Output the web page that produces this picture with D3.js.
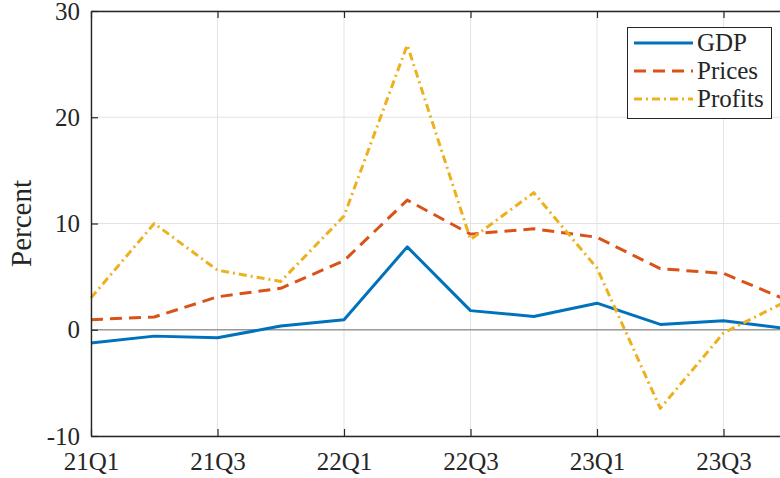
<!DOCTYPE html>
<html>
<head>
<meta charset="utf-8">
<script src="https://cdn.jsdelivr.net/npm/d3@7/dist/d3.min.js"></script>
<style>
  html, body { margin: 0; padding: 0; background: #fff; }
  svg { display: block; }
  text { font-family: "Liberation Serif", "DejaVu Serif", serif; fill: #262626; }
</style>
</head>
<body>
<svg id="chart" width="780" height="478"></svg>
<script>
// Quarterly growth, percent
const quarters = ["21Q1","21Q2","21Q3","21Q4","22Q1","22Q2","22Q3","22Q4","23Q1","23Q2","23Q3","23Q4"];
const gdp     = [-1.25, -0.6, -0.75, 0.35, 0.95, 7.8, 1.8, 1.25, 2.5, 0.5, 0.85, 0.1];
const prices  = [0.95, 1.2, 3.1, 3.9, 6.5, 12.2, 9.0, 9.5, 8.7, 5.75, 5.3, 2.8];
const profits = [3.0, 10.0, 5.6, 4.55, 10.7, 26.8, 8.5, 12.9, 5.8, -7.4, -0.3, 2.7];
const xTickLabels = ["21Q1","21Q3","22Q1","22Q3","23Q1","23Q3"];
const yTicks = [-10, 0, 10, 20, 30];

const series = [
  { name: "GDP",     values: gdp,     color: "#0072BD", dash: null },
  { name: "Prices",  values: prices,  color: "#D95319", dash: "12,7" },
  { name: "Profits", values: profits, color: "#EDB120", dash: "8,4,2,4" }
];

const svg = d3.select("#chart");
const plotLeft = 91, plotTop = 11, plotBottom = 436;
const step = 63.25;
const plotRight = plotLeft + step * (quarters.length - 1);

const x = d3.scalePoint().domain(quarters).range([plotLeft, plotRight]);
const y = d3.scaleLinear().domain([-10, 30]).range([plotBottom, plotTop]);

const axisColor = "#262626";
const fontStack = '"Liberation Serif", "DejaVu Serif", serif';

// grid
const grid = svg.append("g");
grid.selectAll("line.v").data(xTickLabels).join("line")
  .attr("x1", d => x(d)).attr("x2", d => x(d))
  .attr("y1", plotTop).attr("y2", plotBottom)
  .attr("stroke", "#e3e3e3").attr("stroke-width", 1);
grid.selectAll("line.h").data(yTicks).join("line")
  .attr("x1", plotLeft).attr("x2", plotRight)
  .attr("y1", d => y(d)).attr("y2", d => y(d))
  .attr("stroke", "#e3e3e3").attr("stroke-width", 1);

// zero reference line
svg.append("line")
  .attr("x1", plotLeft).attr("x2", plotRight)
  .attr("y1", y(0)).attr("y2", y(0))
  .attr("stroke", "#9a9a9a").attr("stroke-width", 1.6);

// data lines
const line = d3.line().x((d, i) => x(quarters[i])).y(d => y(d));
series.forEach(s => {
  svg.append("path")
    .attr("d", line(s.values))
    .attr("fill", "none")
    .attr("stroke", s.color)
    .attr("stroke-width", 3)
    .attr("stroke-linejoin", "round")
    .attr("stroke-dasharray", s.dash);
});

// axes (box with inward ticks)
const tickLen = 7;
const xAxisB = d3.axisBottom(x).tickValues(xTickLabels).tickSizeInner(-tickLen).tickSizeOuter(0).tickPadding(16);
const xAxisT = d3.axisTop(x).tickValues(xTickLabels).tickSizeInner(-tickLen).tickSizeOuter(0).tickFormat("");
const yAxisL = d3.axisLeft(y).tickValues(yTicks).tickSizeInner(-tickLen).tickSizeOuter(0).tickPadding(11)
  .tickFormat(d => String(d));

function styleAxis(g) {
  g.attr("font-family", fontStack).attr("font-size", 25);
  g.select(".domain").attr("stroke", axisColor).attr("stroke-width", 1.4);
  g.selectAll(".tick line").attr("stroke", axisColor).attr("stroke-width", 1.2);
  g.selectAll(".tick text").attr("fill", axisColor);
}

svg.append("g").attr("transform", `translate(0,${plotBottom})`).call(xAxisB).call(styleAxis);
svg.append("g").attr("transform", `translate(0,${plotTop})`).call(xAxisT).call(styleAxis);
svg.append("g").attr("transform", `translate(${plotLeft},0)`).call(yAxisL).call(styleAxis);

// y label
svg.append("text")
  .attr("transform", `translate(31,${(plotTop + plotBottom) / 2}) rotate(-90)`)
  .attr("text-anchor", "middle")
  .attr("font-size", 29)
  .text("Percent");

// legend
const lg = svg.append("g");
lg.append("rect")
  .attr("x", 627.5).attr("y", 27.5).attr("width", 144).attr("height", 91)
  .attr("fill", "#fff").attr("stroke", axisColor).attr("stroke-width", 1);
series.forEach((s, i) => {
  const cy = 43 + i * 28;
  lg.append("line")
    .attr("x1", 634).attr("x2", 693).attr("y1", cy).attr("y2", cy)
    .attr("stroke", s.color).attr("stroke-width", 3)
    .attr("stroke-dasharray", s.dash);
  lg.append("text")
    .attr("x", 697).attr("y", cy + 8)
    .attr("font-size", 25)
    .text(s.name);
});
</script>
</body>
</html>
